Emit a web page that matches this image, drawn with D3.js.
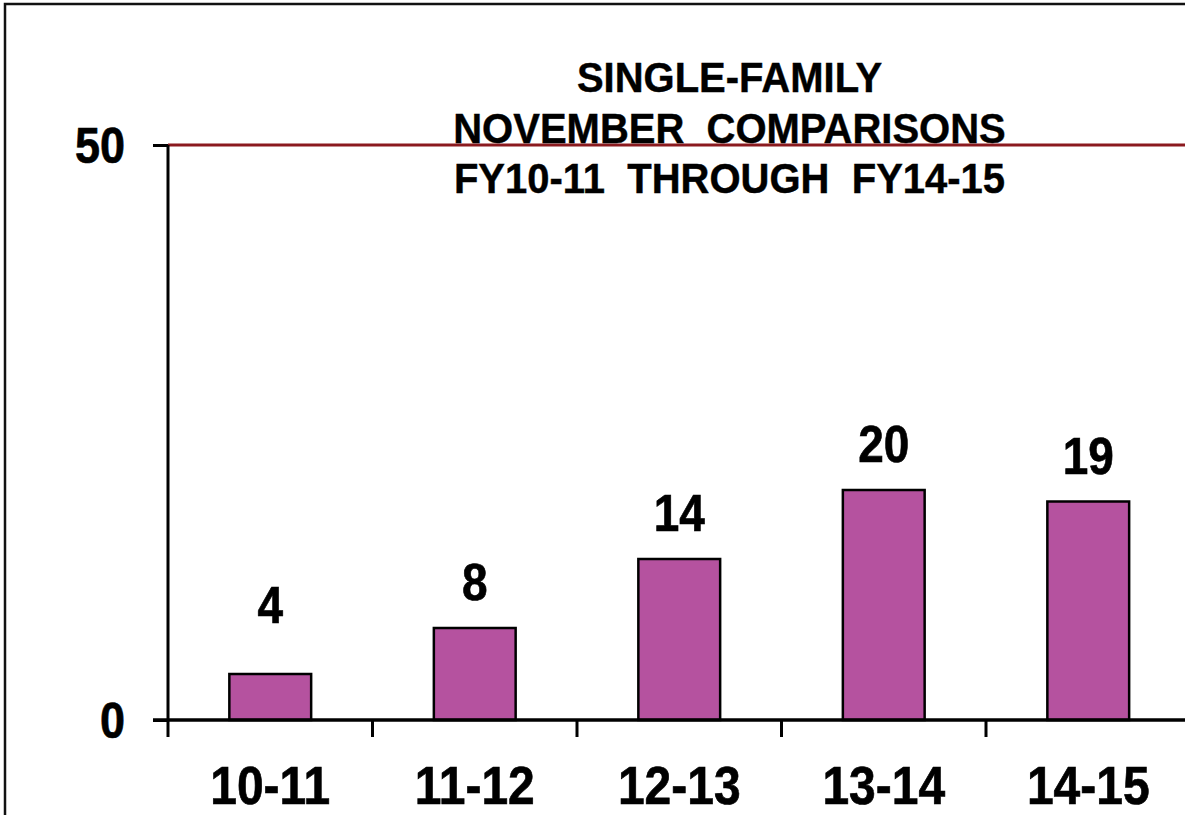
<!DOCTYPE html>
<html><head><meta charset="utf-8">
<script src="https://cdn.jsdelivr.net/npm/d3@7"></script>
<style>html,body{margin:0;padding:0;background:#fff;overflow:hidden}</style>
</head><body>
<svg id="c" width="1185" height="815"></svg>
<script>
const categories = ["10-11", "11-12", "12-13", "13-14", "14-15"];
const values = [4, 8, 14, 20, 19];
const yTicks = [0, 50];
const titleLines = ["SINGLE-FAMILY", "NOVEMBER  COMPARISONS", "FY10-11  THROUGH  FY14-15"];

const svg = d3.select("#c");
const font = "'Liberation Sans', Arial, sans-serif";

// frame
svg.append("path").attr("d", "M5,815 L5,4 L1185,4")
  .attr("fill", "none").attr("stroke", "#111").attr("stroke-width", 2.5);

const x = d3.scaleBand().domain(categories).range([168, 1190.5])
  .paddingInner(0.6).paddingOuter(0.3);
const y = d3.scaleLinear().domain([0, 50]).range([720, 145]);

// top reference line (max gridline)
svg.append("line").attr("x1", 168).attr("x2", 1185)
  .attr("y1", y(50)).attr("y2", y(50))
  .attr("stroke", "#8B1A1F").attr("stroke-width", 3);

// y axis
const yAxis = d3.axisLeft(y).tickValues(yTicks).tickSize(15).tickPadding(28);
const gy = svg.append("g").attr("transform", "translate(168,0)").call(yAxis);
gy.select(".domain").attr("stroke", "#000").attr("stroke-width", 3).attr("d", `M0,${y(50)}V${y(0)}`);
gy.selectAll(".tick line").attr("stroke", "#000").attr("stroke-width", 3);
gy.selectAll(".tick text").attr("font-family", font).attr("font-weight", "bold")
  .attr("font-size", 45).attr("fill", "#000").attr("stroke", "#000").attr("stroke-width", 0.6)
  .attr("dy", "0.36em").attr("y", 0).attr("transform", "scale(1,1.1)");

// bars
svg.append("g").selectAll("rect").data(values).join("rect")
  .attr("x", (d, i) => x(categories[i]))
  .attr("width", x.bandwidth())
  .attr("y", d => y(d))
  .attr("height", d => y(0) - y(d))
  .attr("fill", "#B5529F").attr("stroke", "#000").attr("stroke-width", 2.5);

// x axis
const gx = svg.append("g").attr("transform", `translate(0,${y(0)})`);
gx.append("line").attr("x1", 153).attr("x2", 1185).attr("y1", 0).attr("y2", 0)
  .attr("stroke", "#000").attr("stroke-width", 3.5);
const step = x.step();
const bounds = d3.range(categories.length + 1).map(i => 168 + i * step);
gx.selectAll("line.tk").data(bounds).join("line").attr("class", "tk")
  .attr("x1", d => d).attr("x2", d => d).attr("y1", 0).attr("y2", 17)
  .attr("stroke", "#000").attr("stroke-width", 3);
gx.selectAll("text").data(categories).join("text")
  .attr("transform", d => `translate(${x(d) + x.bandwidth() / 2},84) scale(1,1.1)`)
  .attr("text-anchor", "middle")
  .attr("font-family", font).attr("font-weight", "bold").attr("font-size", 48)
  .attr("fill", "#000").attr("stroke", "#000").attr("stroke-width", 0.6).text(d => d);

// data labels
svg.append("g").selectAll("text").data(values).join("text")
  .attr("transform", (d, i) => `translate(${x(categories[i]) + x.bandwidth() / 2},${Math.min(y(d) - 28, y(8.4))}) scale(1,1.12)`)
  .attr("text-anchor", "middle")
  .attr("font-family", font).attr("font-weight", "bold").attr("font-size", 46)
  .attr("fill", "#000").attr("stroke", "#000").attr("stroke-width", 0.6).text(d => d);

// title
svg.append("g").selectAll("text").data(titleLines).join("text")
  .attr("transform", (d, i) => `translate(729.5,${92 + i * 50.5}) scale(1,1.08)`)
  .attr("text-anchor", "middle")
  .attr("font-family", font).attr("font-weight", "bold").attr("font-size", 40)
  .attr("fill", "#000").attr("stroke", "#000").attr("stroke-width", 0.4)
  .attr("xml:space", "preserve").style("white-space", "pre").text(d => d);
</script>
</body></html>
